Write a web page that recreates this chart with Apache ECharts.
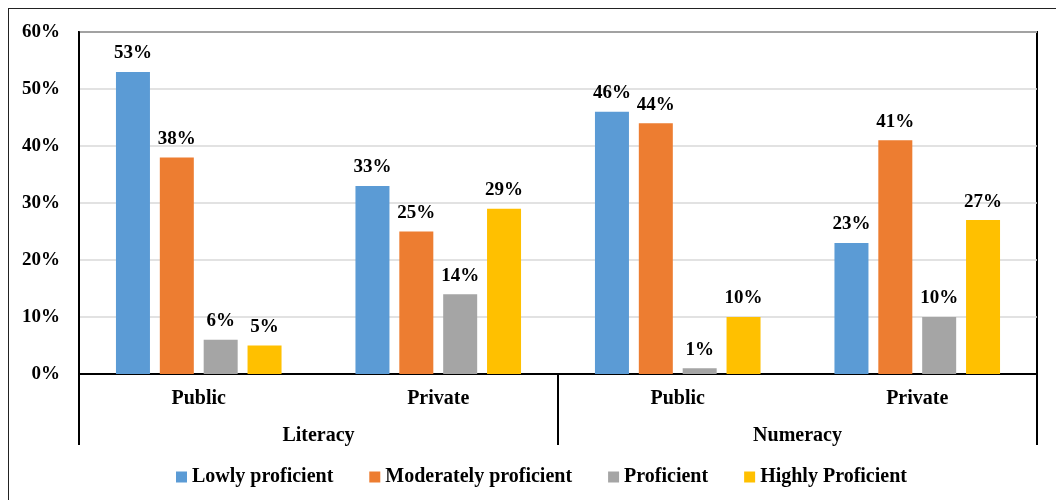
<!DOCTYPE html>
<html>
<head>
<meta charset="utf-8">
<script src="https://cdn.jsdelivr.net/npm/echarts@6/dist/echarts.min.js"></script>
<style>
  html, body { margin: 0; padding: 0; background: #fff; overflow: hidden; }
  #frame { position: absolute; left: 8px; top: 8px; width: 1200px; height: 700px; border: 1px solid #222; box-sizing: border-box; }
  #chart { position: absolute; left: 0; top: 0; width: 1056px; height: 500px; }
</style>
</head>
<body>
<div id="frame"></div>
<div id="chart"></div>
<script>
// Proficiency shares by school type, for literacy and numeracy
const schoolTypes = ['Public', 'Private', 'Public', 'Private'];
const subjects = ['Literacy', 'Numeracy'];
const yTicks = { min: 0, max: 60, step: 10 };

const lowly      = [53, 33, 46, 23];
const moderately = [38, 25, 44, 41];
const proficient = [6, 14, 1, 10];
const highly     = [5, 29, 10, 27];

const seriesNames = ['Lowly proficient', 'Moderately proficient', 'Proficient', 'Highly Proficient'];
const seriesColors = ['#5B9BD5', '#ED7D31', '#A5A5A5', '#FFC000'];
const seriesData = [lowly, moderately, proficient, highly];

const FONT = 'Liberation Serif';
const txt = { fontFamily: FONT, fontWeight: 'bold', fontSize: 19, color: '#000' };

const chart = echarts.init(document.getElementById('chart'), null, { renderer: 'canvas' });

chart.setOption({
  backgroundColor: 'transparent',
  animation: false,
  grid: {
    left: 79, right: 19, top: 32, bottom: 126,
    show: true, borderColor: '#000', borderWidth: 2, backgroundColor: 'transparent'
  },
  legend: {
    data: seriesNames,
    left: 171, top: 462,
    icon: 'rect', itemWidth: 11, itemHeight: 11, itemGap: 36,
    textStyle: Object.assign({}, txt, { fontSize: 20 })
  },
  xAxis: [
    {
      type: 'category',
      data: schoolTypes,
      position: 'bottom',
      axisLine: { show: true, lineStyle: { color: '#000', width: 2 } },
      axisTick: { show: false },
      axisLabel: Object.assign({}, txt, { fontSize: 20, margin: 15 })
    },
    {
      type: 'category',
      data: subjects,
      position: 'bottom',
      axisLine: { show: false },
      axisTick: { show: true, length: 71, lineStyle: { color: '#000', width: 2 } },
      axisLabel: Object.assign({}, txt, { fontSize: 20, margin: 52 })
    }
  ],
  yAxis: {
    type: 'value',
    min: yTicks.min, max: yTicks.max, interval: yTicks.step,
    axisLine: { show: true, lineStyle: { color: '#000', width: 2 } },
    axisTick: { show: false },
    axisLabel: Object.assign({}, txt, { margin: 19, formatter: '{value}%' }),
    splitLine: { show: true, lineStyle: { color: '#D9D9D9', width: 1.5 } }
  },
  series: seriesNames.map((name, i) => ({
    name: name,
    type: 'bar',
    xAxisIndex: 0,
    data: seriesData[i],
    barWidth: 34,
    barGap: '29%',
    itemStyle: { color: seriesColors[i] },
    label: Object.assign({ show: true, position: 'top', distance: 9, formatter: '{c}%' }, txt)
  }))
});
</script>
</body>
</html>
